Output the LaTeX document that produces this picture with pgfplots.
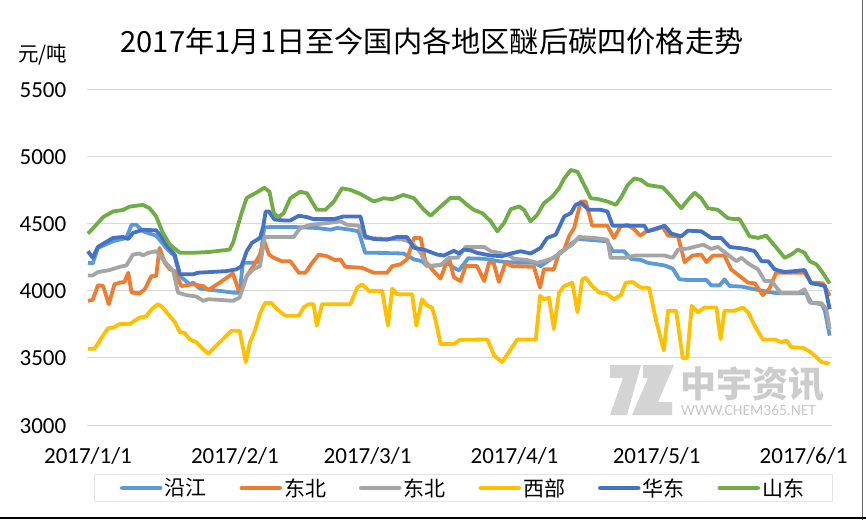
\documentclass[border=0pt]{standalone}
\usepackage{fontspec}
\setmainfont{Carlito}
\newfontfamily\cjk{Noto Sans CJK SC}
\usepackage{pgfplots}
\pgfplotsset{compat=1.18}
\definecolor{cYJ}{HTML}{5B9BD5}
\definecolor{cDB}{HTML}{ED7D31}
\definecolor{cDB2}{HTML}{A5A5A5}
\definecolor{cXB}{HTML}{FFC000}
\definecolor{cHD}{HTML}{4472C4}
\definecolor{cSD}{HTML}{70AD47}
\begin{document}
\begin{tikzpicture}
\path[use as bounding box, fill=white] (0pt,0pt) rectangle (866pt,520pt);
% watermark
\fill[black!17] (610pt,155pt) -- (641pt,155pt) -- (627pt,105pt) -- (610pt,105pt) -- (623pt,142pt) -- (610pt,142pt) -- cycle;
\fill[black!17] (643pt,155pt) -- (674pt,155pt) -- (658pt,118pt) -- (672pt,118pt) -- (672pt,105pt) -- (632pt,105pt) -- (648pt,142pt) -- (643pt,142pt) -- cycle;
\node[anchor=base west, inner sep=0pt, text=black!20] at (680pt,123pt) {\cjk\bfseries\fontsize{36}{36}\selectfont 中宇资讯};
\node[anchor=base west, inner sep=0pt, text=black!22] at (681pt,105pt) {\fontsize{15.5}{15.5}\selectfont WWW.CHEM365.NET};
\begin{axis}[
  at={(87pt,95pt)}, anchor=south west, scale only axis,
  width=745pt, height=336pt,
  xmin=-0.2, xmax=157, ymin=3000, ymax=5500,
  clip=false,
  axis line style={draw=none}, major tick length=0pt,
  ytick={3000,3500,4000,4500,5000,5500},
  scaled y ticks=false,
  /pgf/number format/.cd, 1000 sep={}, assume math mode=true, /pgfplots/.cd,
  ymajorgrids, grid style={color=black!15, line width=1pt},
  xtick={0,31,59,90,120,151},
  xticklabels={2017/1/1,2017/2/1,2017/3/1,2017/4/1,2017/5/1,2017/6/1},
  ticklabel style={font=\fontsize{23}{23}\selectfont, inner sep=0pt, text=black},
  yticklabel style={anchor=base east, xshift=-20.5pt, yshift=-8pt},
  xticklabel style={anchor=base, yshift=-38pt},
  legend columns=6,
  legend image code/.code={\draw[#1, line width=4.5pt, line cap=round] (0pt,0pt) -- (38pt,0pt);},
  legend style={at={(0.5047,-0.1875)}, anchor=center, draw=black!10, line width=1pt, fill=white,
    inner xsep=26pt, inner ysep=3pt, font=\cjk\fontsize{21}{21}\selectfont, text=black,
    nodes={inner xsep=2pt, inner ysep=1pt},
    /tikz/every even column/.append style={column sep=31pt}},
  every axis plot/.append style={line width=3.8pt, line join=round, no markers},
]
\addplot[color=cYJ] coordinates {(0,4207) (1,4202) (2.1,4318) (5.3,4367) (8.1,4392) (9.2,4490) (10.2,4490) (11.6,4441) (13,4424) (14.4,4409) (16.5,4318) (18.3,4256) (19.4,4108) (21.5,4047) (22.2,4059) (23.6,4015) (27.8,3998) (30.6,3985) (32,3985) (32.7,4207) (34.9,4207) (36.3,4219) (37.2,4470) (38.5,4473) (43.4,4473) (48.3,4466) (51.2,4453) (52.6,4466) (55.4,4453) (57.1,4441) (58.5,4281) (61,4281) (66.6,4276) (68.8,4232) (70.5,4219) (71.6,4182) (74.4,4190) (75.8,4207) (77.2,4170) (78.3,4150) (80.2,4240) (83.6,4237) (86.7,4219) (88.5,4212) (91.3,4207) (94.1,4207) (95.5,4182) (97.6,4232) (99.8,4281) (101.2,4325) (103.3,4384) (105.4,4379) (109.6,4367) (110.7,4293) (113.1,4293) (114.6,4235) (116.7,4228) (118.1,4207) (121.7,4187) (123.4,4163) (124.8,4084) (126.6,4079) (130.5,4079) (131.5,4039) (133.3,4039) (134.3,4084) (135.4,4034) (137.9,4030) (140.7,4010) (143.5,3990) (145.6,3980) (150.5,3980) (151.5,3985) (152.6,3911) (154.8,3899) (155.5,3850) (156.5,3665)};
\addlegendentry{沿江}
\addplot[color=cDB] coordinates {(0,3924) (1,3931) (2.1,4039) (3.2,4034) (4.4,3899) (5.6,4047) (6.7,4059) (7.7,4064) (8.5,4133) (9.2,3985) (10.9,3980) (12,4010) (13.4,4108) (14.4,4108) (15.1,4318) (16.2,4207) (17.3,4158) (18.3,4145) (19.7,4034) (22.2,4047) (24.3,4034) (25.4,4005) (27.8,4059) (30.6,4128) (31.7,4010) (32.4,4010) (33.5,4108) (34.9,4182) (36.3,4268) (37.1,4379) (38.2,4268) (39.2,4244) (40.9,4219) (42.7,4219) (44.5,4133) (45.9,4133) (47.3,4207) (48.7,4268) (50.4,4256) (52.2,4227) (53.3,4232) (54.3,4177) (57.8,4170) (60.3,4133) (63.1,4133) (64.2,4182) (65.9,4195) (67.3,4232) (68.8,4392) (70.2,4392) (71.2,4219) (72.6,4158) (74.4,4090) (75.5,4195) (76.2,4244) (77.2,4100) (78.6,4071) (79.7,4182) (82.1,4182) (83.6,4071) (84.6,4207) (85.6,4207) (86.7,4064) (88.1,4207) (89.5,4182) (94.1,4177) (95.4,4022) (96.2,4158) (98.3,4158) (99.4,4281) (100.5,4305) (101.5,4404) (102.6,4466) (104,4663) (105,4663) (105.7,4576) (106.4,4483) (109.6,4483) (111,4392) (112.4,4478) (113.8,4490) (115.2,4458) (116.5,4409) (117.9,4441) (119.5,4453) (121.3,4473) (122.4,4409) (124.5,4404) (125.9,4212) (127.6,4261) (129.4,4268) (130.5,4212) (131.9,4261) (134.3,4261) (135.7,4158) (137.5,4108) (139.3,4059) (140.7,4054) (142.4,3966) (143.8,4015) (145.2,4133) (147,4133) (151.2,4133) (152.6,4059) (155.1,4054) (156.5,3961)};
\addlegendentry{东北}
\addplot[color=cDB2] coordinates {(0,4113) (1,4113) (2.1,4138) (4.6,4153) (6.7,4177) (8.1,4187) (9.5,4268) (10.9,4276) (11.6,4261) (12.7,4281) (14.4,4293) (15.8,4232) (18,4145) (19,3985) (20.8,3966) (22.9,3956) (24.3,3924) (25.4,3936) (27.8,3931) (30.6,3924) (32,3948) (33.5,4108) (34.9,4158) (36.3,4182) (37.3,4399) (43.4,4399) (44.8,4466) (47,4490) (50.4,4502) (53.3,4515) (54.7,4490) (57.1,4483) (58.5,4392) (66.6,4379) (68.4,4355) (70.2,4281) (71.6,4182) (74.4,4190) (76.2,4244) (78,4244) (79.7,4325) (83.6,4325) (85,4293) (86.7,4281) (88.5,4268) (89.9,4237) (92.7,4227) (94.8,4207) (96.2,4219) (98.3,4244) (100.5,4305) (102.2,4342) (103.6,4399) (106.8,4392) (109.6,4379) (110.3,4244) (113.5,4244) (115.3,4261) (121.7,4261) (123.4,4244) (124.5,4305) (126.6,4313) (129.8,4342) (131.5,4310) (132.9,4325) (135,4268) (136.8,4219) (137.9,4244) (139.3,4202) (141.4,4158) (142.8,4071) (144.2,4071) (145.6,4010) (146.3,3980) (149.8,3980) (151.2,4010) (152.3,3911) (154.8,3906) (155.8,3862) (156.5,3714)};
\addlegendentry{东北}
\addplot[color=cXB] coordinates {(0,3567) (1.4,3567) (2.8,3645) (4.2,3719) (5.3,3725) (6.7,3751) (8.8,3751) (9.9,3776) (10.9,3800) (12.3,3808) (13.4,3862) (14.8,3899) (15.8,3874) (17.3,3808) (18.3,3768) (19.4,3690) (20.4,3685) (21.5,3636) (22.9,3616) (23.9,3579) (25.4,3530) (26.4,3567) (28.5,3640) (30.3,3702) (32,3702) (33.3,3468) (34.2,3616) (35.2,3700) (36.4,3840) (37.4,3908) (38.7,3908) (39.9,3862) (41.6,3813) (44.5,3813) (45.5,3874) (46.6,3899) (47.6,3899) (48.3,3739) (49.4,3899) (55.4,3899) (56.8,4022) (57.8,4047) (59.3,3998) (62.1,3998) (63.3,3739) (64.2,4015) (65.2,3973) (68.4,3973) (69.3,3739) (70.5,3936) (71.6,3887) (72.6,3874) (73.3,3788) (74.4,3603) (77.2,3603) (78.5,3634) (84.3,3636) (85.7,3517) (87.4,3468) (88.8,3542) (90.6,3636) (94.5,3636) (95.4,3961) (96.2,3936) (97.3,3948) (98.3,3714) (99.4,3985) (100.5,4034) (102.2,4059) (103.3,3838) (104.3,4084) (105,4096) (106.4,4034) (107.9,3985) (109.3,3980) (111,3936) (112.4,3966) (113.5,4059) (114.9,4064) (116.7,4022) (118.4,4020) (119.8,3790) (121.5,3554) (122.4,3850) (124.1,3850) (125.5,3497) (126.4,3497) (127.4,3887) (128.7,3838) (130.1,3874) (132.6,3874) (133.5,3640) (134.3,3850) (136.4,3850) (138.2,3874) (139.3,3838) (140.7,3739) (142.4,3636) (144.9,3636) (146.3,3616) (147.4,3628) (148.4,3579) (150.9,3574) (152.3,3547) (153.3,3517) (154.8,3468) (156.5,3456)};
\addlegendentry{西部}
\addplot[color=cHD] coordinates {(0,4293) (1,4244) (2.1,4325) (3.5,4355) (5.3,4392) (7.4,4399) (8.5,4384) (9.5,4429) (11.6,4453) (14.4,4448) (15.5,4404) (16.5,4342) (18.3,4268) (19.4,4121) (22.2,4121) (23.2,4133) (29.2,4145) (31.3,4158) (32.4,4182) (33.5,4293) (34.6,4355) (36.3,4392) (37,4478) (37.5,4589) (38.2,4589) (39.3,4530) (41.3,4522) (42.7,4522) (44.5,4557) (46.2,4547) (47.6,4532) (51.9,4532) (54,4552) (57.5,4552) (58.5,4404) (60.3,4384) (63.1,4379) (65.2,4399) (67.3,4399) (68.8,4318) (70.9,4305) (73.7,4268) (75.1,4261) (77.2,4296) (78.3,4276) (79.3,4305) (80.7,4300) (82.1,4281) (85,4261) (87.4,4256) (89.2,4276) (91.3,4293) (93.4,4276) (95.5,4318) (96.9,4392) (98.7,4416) (100.5,4552) (101.9,4576) (102.9,4638) (104,4655) (105.7,4601) (108.2,4601) (109.6,4589) (110.7,4483) (113.8,4483) (117.4,4483) (118.1,4441) (119.5,4458) (121.7,4483) (123.1,4424) (125.2,4404) (126.6,4446) (129.4,4441) (131.5,4392) (133.6,4392) (135.4,4325) (137.1,4318) (138.9,4310) (140.7,4293) (142.1,4219) (143.5,4219) (144.9,4158) (147,4138) (149.1,4145) (151.2,4153) (152.6,4054) (154,4047) (155.5,4034) (156.5,3862)};
\addlegendentry{华东}
\addplot[color=cSD] coordinates {(0,4424) (1.5,4480) (3.2,4547) (5.3,4589) (7.4,4600) (8.8,4625) (11.6,4638) (13,4613) (14.4,4552) (15.8,4429) (17.3,4342) (19.4,4281) (22.2,4281) (25.7,4288) (29.9,4305) (30.6,4354) (32.4,4576) (33.5,4690) (35.6,4730) (37.2,4765) (38.3,4736) (39.2,4576) (40.2,4547) (41.3,4576) (42.7,4687) (44.8,4736) (46.2,4724) (48.3,4601) (50.1,4601) (51.9,4663) (53.6,4761) (55.4,4749) (57.5,4719) (60.3,4663) (62.4,4687) (64.2,4680) (66.6,4712) (68.8,4687) (70.9,4601) (72.3,4557) (74.4,4625) (76.5,4690) (78.3,4690) (80,4638) (81.4,4601) (83.2,4576) (85,4515) (86.4,4441) (87.8,4502) (89.2,4606) (91,4626) (92,4601) (93.4,4515) (94.8,4564) (96.2,4650) (98,4700) (99.4,4761) (100.5,4835) (101.9,4897) (103.3,4884) (104.7,4786) (106.1,4687) (107.5,4682) (109.6,4663) (111.4,4638) (112.6,4700) (113.9,4786) (115.3,4835) (116.7,4823) (118.1,4786) (121.3,4768) (123.1,4700) (125.2,4613) (126.6,4675) (128,4729) (129.4,4687) (130.8,4613) (132.9,4601) (135,4539) (136.4,4532) (137.5,4532) (139.6,4404) (141.4,4392) (143.1,4409) (145.3,4318) (147,4244) (148.4,4268) (149.8,4305) (151.2,4281) (152.3,4219) (153.7,4195) (154.8,4145) (156.5,4054)};
\addlegendentry{山东}
\end{axis}
\node[anchor=base, inner sep=0pt] at (432pt,467pt) {\cjk\fontsize{29.2}{29.2}\selectfont 2017年1月1日至今国内各地区醚后碳四价格走势};
\node[anchor=base west, inner sep=0pt] at (18pt,458pt) {\cjk\fontsize{20.5}{20.5}\selectfont 元/吨};
\draw[black!60, line width=1pt] (862.5pt,0pt) -- (862.5pt,520pt);
\draw[black, line width=2.5pt] (0pt,1.8pt) -- (866pt,1.8pt);
\end{tikzpicture}
\end{document}
